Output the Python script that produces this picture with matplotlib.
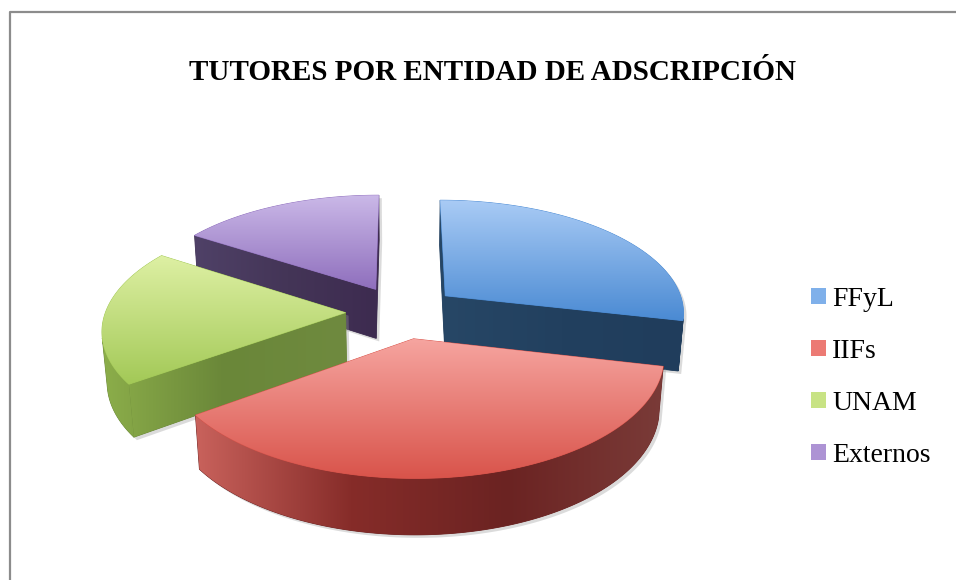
import numpy as np
import matplotlib
matplotlib.use("Agg")
import matplotlib.pyplot as plt
from matplotlib.patches import Polygon, Patch
from matplotlib.colors import LinearSegmentedColormap
from matplotlib.lines import Line2D

# ---------------- data ----------------
categories = ["FFyL", "IIFs", "UNAM", "Externos"]
values = [18, 23, 12, 10]
title = "TUTORES POR ENTIDAD DE ADSCRIPCIÓN"

top_light = ["#a9cbf5", "#f6a5a0", "#def0a4", "#cbb9e8"]
top_dark = ["#4a8ad3", "#d9544b", "#a3c957", "#8f6fbd"]
side_cols = [["#274766", "#22405f", "#203d5c"],
             ["#c9625c", "#862c29", "#6b2322", "#7a3b38"],
             ["#8cae4a", "#6a8739", "#6f8a3f"],
             ["#4f4167", "#443557", "#3d2b50"]]
legend_cols = ["#7fb0ea", "#ec7a74", "#c8e384", "#ad93d4"]

# ---------------- figure ----------------
W, H = 956, 580
fig = plt.figure(figsize=(W / 100, H / 100), dpi=100)
ax = fig.add_axes([0, 0, 1, 1])

K = 240.0
phi = np.radians(28.0)
Dcam = 6.5
cx, cy = 402.0, 312.0
hgt = 0.24
explode = 0.235
cphi, sphi = np.cos(phi), np.sin(phi)
cam = np.array([0.0, -Dcam * cphi, Dcam * sphi])


def proj(X, Y, Z):
    X = np.asarray(X, float); Y = np.asarray(Y, float); Z = np.asarray(Z, float)
    v = Y * sphi + Z * cphi
    w = Y * cphi - Z * sphi
    sc = Dcam / (Dcam + w)
    return cx + K * X * sc, cy - K * v * sc


def grad_fill(xs, ys, colors, direction, zorder, span=None):
    pts = np.column_stack([xs, ys])
    mc = colors[len(colors) // 2]
    base = Polygon(pts, closed=True, facecolor=mc, edgecolor=mc, lw=0.6,
                   zorder=zorder)
    ax.add_patch(base)
    cmap = LinearSegmentedColormap.from_list("g", colors)
    x0, x1 = xs.min(), xs.max()
    y0, y1 = ys.min(), ys.max()
    if direction == "v":
        arr = np.linspace(0, 1, 256)[:, None] * np.ones((1, 2))
    else:
        if span is not None:
            x0, x1 = span
        arr = np.ones((2, 1)) * np.linspace(0, 1, 256)[None, :]
    im = ax.imshow(arr, cmap=cmap, extent=(x0, x1, y1, y0), origin="upper",
                   aspect="auto", zorder=zorder + 0.01, interpolation="bilinear")
    im.set_clip_path(base)


total = float(sum(values))
start = 90.0
slices = []
for i, v in enumerate(values):
    sweep = 360.0 * v / total
    b = np.radians(start)
    a = np.radians(start - sweep)
    mid = 0.5 * (a + b)
    ox, oy = explode * np.cos(mid), explode * np.sin(mid)
    slices.append((i, a, b, mid, ox, oy))
    start -= sweep


def depth(s):
    i, a, b, mid, ox, oy = s
    return oy + 0.5 * np.sin(mid)


order = sorted(slices, key=depth, reverse=True)

z = 2
for (i, a, b, mid, ox, oy) in order:
    t = np.linspace(a, b, 200)
    ax_, ay_ = ox + np.cos(t), oy + np.sin(t)
    faces = []
    for ang, nrm in ((a, np.array([np.sin(a), -np.cos(a), 0.0])),
                     (b, np.array([-np.sin(b), np.cos(b), 0.0]))):
        P = np.array([ox + 0.5 * np.cos(ang), oy + 0.5 * np.sin(ang), -hgt / 2])
        if np.dot(nrm, cam - P) > 0:
            X = [ox, ox + np.cos(ang), ox + np.cos(ang), ox]
            Y = [oy, oy + np.sin(ang), oy + np.sin(ang), oy]
            Zs = [0, 0, -hgt, -hgt]
            faces.append(proj(X, Y, Zs))
    vis = []
    for k in range(len(t)):
        P = np.array([ax_[k], ay_[k], -hgt / 2])
        nrm = np.array([np.cos(t[k]), np.sin(t[k]), 0])
        vis.append(np.dot(nrm, cam - P) > 0)
    vis = np.array(vis)
    runs = []
    k = 0
    while k < len(t):
        if vis[k]:
            j = k
            while j < len(t) and vis[j]:
                j += 1
            runs.append((k, j))
            k = j
        else:
            k += 1
    for (k0, k1) in runs:
        tx, ty = ax_[k0:k1], ay_[k0:k1]
        X = np.concatenate([tx, tx[::-1]])
        Y = np.concatenate([ty, ty[::-1]])
        Zs = np.concatenate([np.zeros(len(tx)), -hgt * np.ones(len(tx))])
        faces.append(proj(X, Y, Zs))
    TX = np.concatenate([[ox], ax_])
    TY = np.concatenate([[oy], ay_])
    top = proj(TX, TY, np.zeros(len(TX)))
    allx = np.concatenate([f[0] for f in faces + [top]])
    for fx, fy in faces + [top]:
        ax.add_patch(Polygon(np.column_stack([fx + 3, fy + 3]), closed=True,
                             facecolor="#9a9a9a", edgecolor="none", alpha=0.35,
                             zorder=z - 0.5))
    for fx, fy in faces:
        grad_fill(fx, fy, side_cols[i], "h", z, span=(allx.min(), allx.max()))
    grad_fill(top[0], top[1], [top_light[i], top_dark[i]], "v", z + 0.5)
    z += 2

ax.set_xlim(0, W)
ax.set_ylim(H, 0)
ax.axis("off")

fig.add_artist(Line2D([9.5 / W, 9.5 / W, 1.0], [0.0, 1 - 11.5 / H, 1 - 11.5 / H],
                      color="#8c8c8c", lw=1.6, transform=fig.transFigure))

ax.text(493, 72, title, ha="center", va="center", fontsize=21,
        fontweight="bold", family="Liberation Serif", color="black", zorder=50)

handles = [Patch(facecolor=c, edgecolor="none", label=l)
           for c, l in zip(legend_cols, categories)]
leg = ax.legend(handles=handles, loc="upper left",
                bbox_to_anchor=(811 / W, 1 - 287 / H), frameon=False,
                prop={"family": "Liberation Serif", "size": 20},
                handlelength=0.54, handleheight=0.54, handletextpad=0.22,
                labelspacing=0.97, borderpad=0.0, borderaxespad=0.0)

fig.savefig("out.png", dpi=100)
